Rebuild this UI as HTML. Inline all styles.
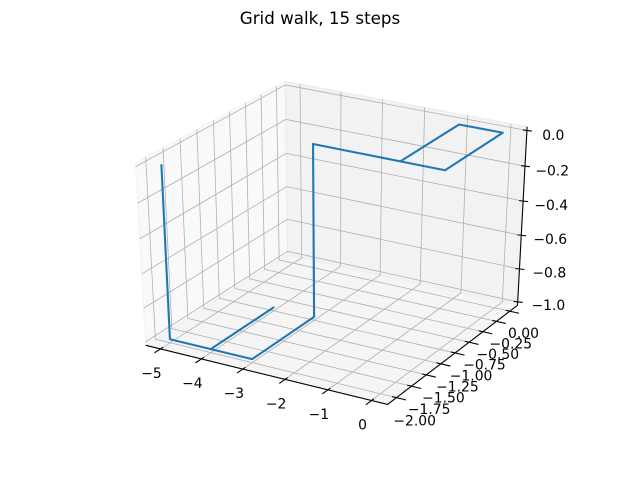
<!DOCTYPE html>
<html><head><meta charset="utf-8"><style>
html,body{margin:0;padding:0;background:#fff}
svg text{font-family:"DejaVu Sans","Liberation Sans",sans-serif}
</style></head><body>
<svg id="chart" width="640" height="480" viewBox="0 0 640 480" xmlns="http://www.w3.org/2000/svg">
<rect width="640" height="480" fill="#fff"/>
<text x="320" y="24" text-anchor="middle" font-size="16.7" fill="#000">Grid walk, 15 steps</text>
<g id="panes"></g>
<g id="grid"></g>
<g id="axes"></g>
<g id="series"></g>
</svg>
<script>
const walkX = [0,-1,-1,0,0,0,-1,-2,-3,-3,-3,-4,-4,-4,-5,-5];
const walkY = [0,0,-1,-1,0,-1,-1,-1,-1,-1,-2,-2,-1,-2,-2,-2];
const walkZ = [0,0,0,0,0,0,0,0,0,-1,-1,-1,-1,-1,-1,0];
const xTicks = [-5,-4,-3,-2,-1,0];
const yTicks = [-2,-1.75,-1.5,-1.25,-1,-0.75,-0.5,-0.25,0];
const zTicks = [-1,-0.8,-0.6,-0.4,-0.2,0];
const xTickLabels = ["\u22125","\u22124","\u22123","\u22122","\u22121","0"];
const yTickLabels = ["\u22122.00","\u22121.75","\u22121.50","\u22121.25","\u22121.00","\u22120.75","\u22120.50","\u22120.25","0.00"];
const zTickLabels = ["\u22121.0","\u22120.8","\u22120.6","\u22120.4","\u22120.2","0.0"];

const XL=[-5.25,0.25], YL=[-2.1,0.1], ZL=[-1,0];
const px_=(XL[1]-XL[0])/48, py_=(YL[1]-YL[0])/48, pz_=(ZL[1]-ZL[0])/48;
const X0=XL[0]-px_, X1=XL[1]+px_, Y0=YL[0]-py_, Y1=YL[1]+py_, Z0=ZL[0]-pz_, Z1=ZL[1]+pz_;
const U=[0.8660,0.5,0], V=[-0.25,0.4330,0.8660], W=[0.4330,-0.75,0.5];
function proj(x,y,z){
  const a=(x-XL[0])/(XL[1]-XL[0])-0.5, b=(y-YL[0])/(YL[1]-YL[0])-0.5, c=(z-ZL[0])/(ZL[1]-ZL[0])-0.5;
  const u=U[0]*a+U[1]*b+U[2]*c, v=V[0]*a+V[1]*b+V[2]*c, w=W[0]*a+W[1]*b+W[2]*c;
  const d=10-w;
  return [334.6+2680*u/d, 237.1-2000*v/d];
}
const NS="http://www.w3.org/2000/svg";
function mk(tag,attrs,parent){const e=document.createElementNS(NS,tag);for(const k in attrs)e.setAttribute(k,attrs[k]);parent.appendChild(e);return e;}
function pts(list){return list.map(p=>proj(p[0],p[1],p[2]).map(v=>v.toFixed(2)).join(",")).join(" ");}

const panes=document.getElementById('panes');
let e;
e=mk('polygon',{points:pts([[X0,Y0,Z0],[X0,Y1,Z0],[X0,Y1,Z1],[X0,Y0,Z1]]),fill:'#f9f9f9',stroke:'#f2f2f2','stroke-width':1},panes);


e=mk('polygon',{points:pts([[X0,Y1,Z0],[X1,Y1,Z0],[X1,Y1,Z1],[X0,Y1,Z1]]),fill:'#f2f2f2',stroke:'#ebebeb','stroke-width':1},panes);


e=mk('polygon',{points:pts([[X0,Y0,Z0],[X1,Y0,Z0],[X1,Y1,Z0],[X0,Y1,Z0]]),fill:'#f5f5f5',stroke:'#eeeeee','stroke-width':1},panes);



const grid=document.getElementById('grid');
const gs={fill:'none',stroke:'#b0b0b0','stroke-width':0.8};
xTicks.forEach(t=>{e=mk('polyline',Object.assign({points:pts([[t,Y0,Z0],[t,Y1,Z0],[t,Y1,Z1]])},gs),grid);

});
yTicks.forEach(t=>{e=mk('polyline',Object.assign({points:pts([[X1,t,Z0],[X0,t,Z0],[X0,t,Z1]])},gs),grid);

});
zTicks.forEach(t=>{e=mk('polyline',Object.assign({points:pts([[X0,Y0,t],[X0,Y1,t],[X1,Y1,t]])},gs),grid);

});

const axes=document.getElementById('axes');
const as={fill:'none',stroke:'#000','stroke-width':1.1};
e=mk('polyline',Object.assign({points:pts([[X0,Y0,Z0],[X1,Y0,Z0]])},as),axes);


e=mk('polyline',Object.assign({points:pts([[X1,Y0,Z0],[X1,Y1,Z0]])},as),axes);


e=mk('polyline',Object.assign({points:pts([[X1,Y1,Z0],[X1,Y1,Z1]])},as),axes);



xTicks.forEach((t,i)=>{
  e=mk('polyline',Object.assign({points:pts([[t,Y0+0.04,Z0],[t,Y0-0.09,Z0]])},as),axes);
  
  
  const p=proj(t,Y0,Z0);
  e=mk('text',{x:(p[0]-9).toFixed(1),y:(p[1]+29).toFixed(1),'text-anchor':'middle','font-size':13.9,fill:'#000'},axes);
  e.textContent=xTickLabels[i];
  
  
});
yTicks.forEach((t,i)=>{
  e=mk('polyline',Object.assign({points:pts([[X1-0.1,t,Z0],[X1+0.22,t,Z0]])},as),axes);
  
  
  const p=proj(X1,t,Z0);
  const f=(t-YL[0])/(YL[1]-YL[0]);
  const dx=18.5-5*f, dy=23-1*f;
  e=mk('text',{x:(p[0]+dx).toFixed(1),y:(p[1]+dy+5).toFixed(1),'text-anchor':'middle','font-size':13.9,fill:'#000'},axes);
  e.textContent=yTickLabels[i];
  
  
});
zTicks.forEach((t,i)=>{
  const p=proj(X1,Y1,t);
  e=mk('line',{x1:(p[0]-4).toFixed(2),y1:(p[1]-0.5).toFixed(2),x2:(p[0]+5).toFixed(2),y2:(p[1]+0.5).toFixed(2),stroke:'#000','stroke-width':1.1},axes);
  
  
  const f=(t-ZL[0]);
  const dx=30.7-4.3*f, dy=3+1.5*f;
  e=mk('text',{x:(p[0]+dx).toFixed(1),y:(p[1]+dy+5).toFixed(1),'text-anchor':'middle','font-size':13.9,fill:'#000'},axes);
  e.textContent=zTickLabels[i];
  
  
});

const series=document.getElementById('series');
const walk=walkX.map((x,i)=>[x,walkY[i],walkZ[i]]);
e=mk('polyline',{points:pts(walk),fill:'none',stroke:'#1f77b4','stroke-width':2.1,'stroke-linejoin':'round','stroke-linecap':'butt'},series);


</script>
</body></html>
